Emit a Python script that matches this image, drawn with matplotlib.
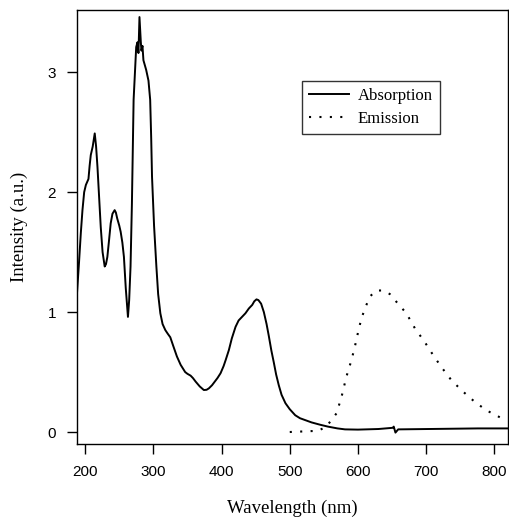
import numpy as np
import matplotlib.pyplot as plt

# absorption spectrum
abs_nm = [188, 191, 193.6, 196, 198.5, 201, 204.8, 206.5, 208.2, 211,
          214, 216, 218, 220.5, 222.8, 225.5, 228.6, 230.5, 232.5, 235,
          237.4, 240, 243.2, 245, 247, 250, 252, 254.5, 256.8, 259.5,
          262.7, 264.5, 266.5, 268.5, 271, 274.8, 276.7, 278.1, 279.6, 281.6,
          282.5, 284, 285.4, 289.4, 292.8, 295.3, 296.8, 298, 301, 304.4,
          307, 310.2, 313.5, 317.5, 321, 324.8, 329, 334.5, 340, 346.6,
          350, 354.6, 358, 362, 368, 374, 378, 381.4, 386, 390,
          394, 398.5, 403, 406, 410.7, 415, 420.5, 425, 430, 435,
          440, 445, 448, 451.2, 454, 458, 462, 466, 469.3, 473,
          476.6, 480, 483.9, 488, 493.7, 500, 508, 515, 532, 545,
          556, 570, 581, 600, 630, 651, 652.5, 655, 659, 703,
          776, 820]
abs_val = [1.16, 1.42, 1.66, 1.85, 2.00, 2.06, 2.11, 2.22, 2.31, 2.38,
           2.49, 2.38, 2.21, 1.95, 1.71, 1.50, 1.38, 1.40, 1.46, 1.60,
           1.74, 1.82, 1.85, 1.83, 1.78, 1.72, 1.67, 1.58, 1.46, 1.20,
           0.96, 1.10, 1.38, 1.90, 2.77, 3.21, 3.25, 3.16, 3.46, 3.25,
           3.18, 3.22, 3.10, 3.02, 2.93, 2.77, 2.45, 2.13, 1.72, 1.38,
           1.15, 0.99, 0.90, 0.85, 0.82, 0.79, 0.72, 0.63, 0.56, 0.50,
           0.485, 0.47, 0.45, 0.42, 0.38, 0.35, 0.352, 0.364, 0.39, 0.42,
           0.45, 0.49, 0.55, 0.60, 0.683, 0.78, 0.877, 0.93, 0.96, 0.99,
           1.03, 1.06, 1.09, 1.106, 1.10, 1.07, 1.00, 0.90, 0.80, 0.68,
           0.58, 0.48, 0.39, 0.31, 0.24, 0.19, 0.14, 0.115, 0.08, 0.06,
           0.045, 0.03, 0.022, 0.02, 0.025, 0.035, 0.045, -0.005, 0.022, 0.025,
           0.03, 0.03]

# emission spectrum
em_nm = [500, 541.6, 553.7, 568.5, 575.8, 583, 590.5, 595.4, 600.3, 605,
         611, 617.5, 627, 637, 646.8, 656.5, 671, 683.5, 698, 710.4,
         722.6, 737.3, 754.5, 771.6, 788.7, 810.7, 818]
em_val = [0.0, 0.01, 0.045, 0.155, 0.29, 0.46, 0.6, 0.71, 0.835, 0.946,
          1.04, 1.13, 1.18, 1.18, 1.15, 1.085, 0.99, 0.865, 0.75, 0.64,
          0.54, 0.43, 0.335, 0.25, 0.18, 0.115, 0.095]

xticks = [200, 300, 400, 500, 600, 700, 800]
yticks = [0, 1, 2, 3]

fig = plt.figure(figsize=(5.10, 5.19), dpi=100)
ax = fig.add_axes([0.151, 0.1445, 0.845, 0.8365])

ax.plot(abs_nm, abs_val, color='black', lw=1.4, label='Absorption')
ax.plot(em_nm, em_val, color='black', lw=1.5, linestyle=(0, (1, 4)), label='Emission')

ax.set_xlim(188, 820)
ax.set_ylim(-0.1, 3.52)
ax.set_xticks(xticks)
ax.set_yticks(yticks)
ax.tick_params(direction='out', length=7, width=1, labelsize=11, pad=8)
for lab in ax.get_xticklabels() + ax.get_yticklabels():
    lab.set_family('Liberation Sans')
for s in ax.spines.values():
    s.set_linewidth(1)

ax.set_xlabel('Wavelength (nm)', family='Liberation Serif', fontsize=13.5, labelpad=15)
ax.set_ylabel('Intensity (a.u.)', family='Liberation Serif', fontsize=13.5, labelpad=14)

leg = ax.legend(loc='upper left', bbox_to_anchor=(0.522, 0.837), borderaxespad=0,
                fancybox=False, frameon=True, handlelength=2.4, handletextpad=0.5,
                borderpad=0.45, labelspacing=0.4,
                prop={'family': 'Liberation Serif', 'size': 12})
leg.get_frame().set_edgecolor('black')
leg.get_frame().set_linewidth(1)

plt.savefig('out.png', dpi=100)
